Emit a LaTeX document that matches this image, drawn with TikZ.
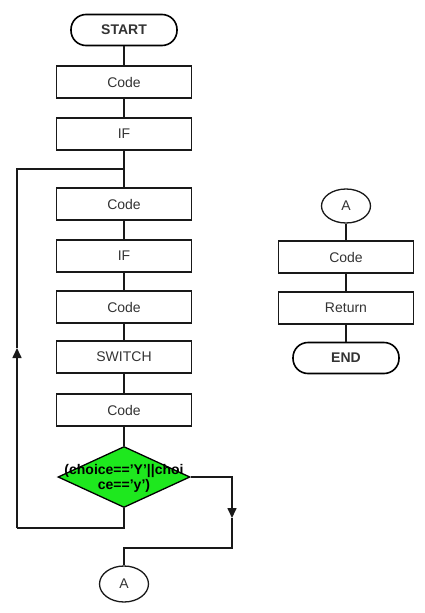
\documentclass[tikz,border=0pt]{standalone}
\usepackage{fontspec}
\setmainfont{Liberation Sans}
\usepackage{tikz}
\usetikzlibrary{arrows.meta,shapes.geometric,positioning,calc}

\begin{document}
\begin{tikzpicture}
[
x=1pt, y=-1pt,
every node/.style={font=\fontsize{14}{16}\selectfont, text=black!80},
terminal/.style={rectangle, rounded corners=15pt, draw=black, line width=1.6pt, minimum width=106pt, minimum height=31pt, font=\fontsize{14}{16}\selectfont\bfseries},
block/.style={rectangle, draw=black!90, line width=1.4pt, minimum width=135pt, minimum height=32pt, node distance=52pt},
decide/.style={diamond, draw=black, line width=1.3pt, fill=decgreen, minimum width=132pt, minimum height=61pt, inner sep=0pt},
conn/.style={ellipse, draw=black!90, line width=1.3pt, minimum width=49pt, minimum height=36pt, inner sep=0pt},
line/.style={draw=black!90, line width=1.6pt},
tip/.style={-{Triangle[length=10pt,width=9pt]}}
]
\definecolor{decgreen}{RGB}{30,232,30}
\useasboundingbox (0,0) rectangle (425,613);

%Nodes
\node[terminal]         (start)     at (124,30)                 {START};
\node[block]            (code1)     [below of=start]            {Code};
\node[block]            (if1)       [below of=code1]            {IF};
\node[block]            (code2)     [below of=if1, node distance=70pt] {Code};
\node[block]            (if2)       [below of=code2]            {IF};
\node[block]            (code3)     [below of=if2, node distance=51pt] {Code};
\node[block]            (switch)    [below of=code3, node distance=50pt] {SWITCH};
\node[block]            (code4)     [below of=switch, node distance=53pt] {Code};
\node[decide]           (choice)    [below of=code4, node distance=67pt]
  {};
\node[font=\fontsize{14}{15}\selectfont\bfseries, text=black, align=center] (cond) at ([yshift=-1pt]choice.center) {(choice=='Y'||choi\\ce=='y')};
\node[conn]             (a1)        at (124,584)                {A};

\node[conn, minimum height=34pt] (a2) at (346,206)              {A};
\node[block]            (code5)     at (346,257)                {Code};
\node[block]            (ret)       [below of=code5, node distance=51pt] {Return};
\node[terminal]         (end)       [below of=ret, node distance=50pt]   {END};

\coordinate (join)   at ($(if1.south)!0.5!(code2.north)$);
\coordinate (loopb)  at (124,528);
\coordinate (loopl)  at (17,528);
\coordinate (loopm)  at (17,348);
\coordinate (rightm) at (232,518);
\coordinate (rightb) at (232,548);

%Lines
\path[line]
(start)   edge  (code1)
(code1)   edge  (if1)
(if1)     edge  (code2)
(code2)   edge  (if2)
(if2)     edge  (code3)
(code3)   edge  (switch)
(switch)  edge  (code4)
(code4)   edge  (choice)
(a2)      edge  (code5)
(code5)   edge  (ret)
(ret)     edge  (end);

\draw[line] (choice.south) -- (loopb) -- (loopl);
\draw[line, tip] (loopl) -- (loopm);
\draw[line] (loopm) |- (join);

\draw[line, tip] (choice.east) -| (rightm);
\draw[line] (rightm) -- (rightb) -| (a1.north);
\end{tikzpicture}
\end{document}
